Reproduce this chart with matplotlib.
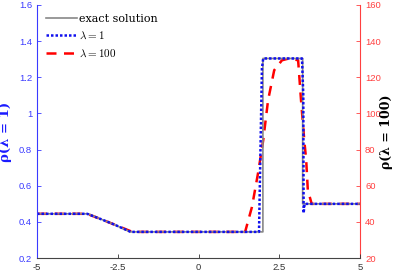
import matplotlib.pyplot as plt
from matplotlib.ticker import FuncFormatter

plt.rcParams['mathtext.fontset'] = 'cm'
plt.rcParams['font.family'] = ['Liberation Sans', 'DejaVu Sans']

# exact solution (Lax shock tube)
x_exact = [-5, -3.42, -3.0, -2.6, -2.12, 1.99, 1.99, 3.22, 3.22, 5]
rho_exact = [0.445, 0.445, 0.414, 0.385, 0.345, 0.345, 1.304, 1.304, 0.5, 0.5]

# lambda = 1 (left axis)
x_lam1 = [-5, -3.45, -3.0, -2.6, -2.1, 1.87, 1.96, 2.0, 3.2, 3.24, 3.25, 3.28, 5]
rho_lam1 = [0.445, 0.445, 0.414, 0.385, 0.345, 0.345, 1.25, 1.304, 1.304, 1.1, 0.449, 0.5, 0.5]

# lambda = 100 (right axis)
x_lam100 = [-5, -3.45, -3.0, -2.6, -2.05, 1.44, 1.65, 1.84, 2.0, 2.15, 2.34, 2.58,
            2.8, 3.08, 3.17, 3.27, 3.33, 3.38, 3.5, 5]
rho_lam100 = [44.5, 44.5, 41.4, 38.5, 34.5, 34.5, 48.2, 67.0, 85.2, 107.3, 123.9, 129.4,
              130.4, 129.4, 107.3, 85.2, 74.1, 57.6, 50.0, 50.0]

fig = plt.figure(figsize=(3.99, 2.74), dpi=100)
ax = fig.add_axes([0.0927, 0.058, 0.81, 0.924])
ax2 = ax.twinx()

blue = '#3a3aff'
red = '#ff4040'

l0, = ax.plot(x_exact, rho_exact, color='#888888', lw=1.2, label='exact solution')
l1, = ax.plot(x_lam1, rho_lam1, color='#1010ee', lw=1.8, ls=(0, (1, 0.8)), label=r'$\lambda = 1$')
l2, = ax2.plot(x_lam100, rho_lam100, color='red', lw=1.8, ls=(0, (4, 3)), label=r'$\lambda = 100$')
ax.set_zorder(ax2.get_zorder() + 1)
ax.patch.set_visible(False)

ax.set_xlim(-5, 5)
ax.set_ylim(0.2, 1.6)
ax2.set_ylim(20, 160)
ax.set_xticks([-5, -2.5, 0, 2.5, 5])
ax.set_yticks([0.2, 0.4, 0.6, 0.8, 1.0, 1.2, 1.4, 1.6])
ax2.set_yticks([20, 40, 60, 80, 100, 120, 140, 160])
ax.xaxis.set_major_formatter(FuncFormatter(lambda v, p: f'{v:g}'))
ax.yaxis.set_major_formatter(FuncFormatter(lambda v, p: f'{v:g}'))

for a in (ax, ax2):
    a.spines['top'].set_visible(False)
    a.tick_params(direction='in', length=3, labelsize=6.8, width=0.6)
ax.spines['left'].set_color(blue)
ax.spines['right'].set_visible(False)
ax2.spines['left'].set_visible(False)
ax2.spines['right'].set_color(red)
ax.spines['bottom'].set_color('#444444')
ax2.spines['bottom'].set_visible(False)
ax.tick_params(axis='y', colors=blue)
ax2.tick_params(axis='y', colors=red)
ax.tick_params(axis='x', colors='#333333')

ax.set_ylabel('ρ(λ = 1)', color='#1a1aff', fontsize=9.5, family='DejaVu Serif',
              fontweight='bold')
ax.yaxis.set_label_coords(-0.077, 0.5)
ax2.set_ylabel('ρ(λ = 100)', color='black', fontsize=9, family='DejaVu Serif',
               fontweight='bold', rotation=90)
ax2.yaxis.set_label_coords(1.06, 0.5)

ax.legend(handles=[l0, l1, l2], loc='upper left', frameon=False,
          prop={'family': 'DejaVu Serif', 'size': 8}, handlelength=2.8, handletextpad=0.2,
          labelspacing=0.55, borderaxespad=0.4)

fig.savefig('out.png', dpi=100)
